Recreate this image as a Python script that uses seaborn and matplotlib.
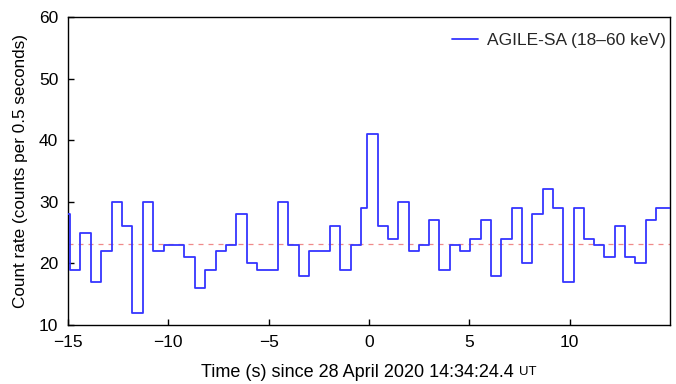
import numpy as np
import pandas as pd
import matplotlib
matplotlib.use("Agg")
import matplotlib.pyplot as plt
import seaborn as sns

# ---- data ----
# counts before the trigger (first value is a partially visible bin)
counts_pre = [28, 19, 25, 17, 22, 30, 26, 12, 30, 22, 23, 23, 21, 16, 19,
              22, 23, 28, 20, 19, 19, 30, 23, 18, 22, 22, 26, 19, 23]
# short bin just before the trigger
count_short = 29
# counts from the trigger on
counts_post = [41, 26, 24, 30, 22, 23, 27, 19, 23, 22, 24, 27, 18, 24, 29,
               20, 28, 32, 29, 17, 29, 24, 23, 21, 26, 21, 20, 27, 29]
pre_start = -15.418      # start of first (clipped) bin, s
pre_width = 0.518        # s
short_start = -0.40      # s
post_start = -0.085      # s
post_width = 0.514       # s
t_end = 15.0
mean_level = 23.2
legend_label = "AGILE-SA (18\u201360 keV)"
xticks = [-15, -10, -5, 0, 5, 10]
yticks = [10, 20, 30, 40, 50, 60]

t_pre = pre_start + pre_width * np.arange(len(counts_pre))
t_post = post_start + post_width * np.arange(len(counts_post))
times = np.concatenate([t_pre, [short_start], t_post, [t_end]])
counts = np.concatenate([counts_pre, [count_short], counts_post, [counts_post[-1]]])
df = pd.DataFrame({"time": times, "counts": counts})

sns.set_theme(style="white")
plt.rcParams["font.family"] = ["Liberation Sans", "DejaVu Sans"]

FS = 12.5
fig = plt.figure(figsize=(6.76, 3.84), dpi=100)
ax = fig.add_axes([0.1006, 0.1536, 0.8904, 0.8021])

ax.axhline(mean_level, color="#f08a8a", lw=0.9, ls=(0, (4, 4)), zorder=1)
sns.lineplot(data=df, x="time", y="counts", drawstyle="steps-post",
             color="#3535ff", lw=1.3, ax=ax, label=legend_label, zorder=3,
             estimator=None)

ax.set_xlim(-15, 15)
ax.set_ylim(10, 60)
ax.set_xticks(xticks)
ax.set_yticks(yticks)
ax.set_xticklabels([("\u2212" + str(abs(v))) if v < 0 else str(v) for v in xticks])
ax.tick_params(axis="both", direction="in", length=4, width=1, colors="black",
               labelsize=FS, pad=7, bottom=True, left=True, top=False, right=False)
ax.tick_params(axis="x", pad=7)
for s in ax.spines.values():
    s.set_color("black")
    s.set_linewidth(1.0)

ax.set_ylabel("Count rate (counts per 0.5 seconds)", fontsize=12.3, color="black", labelpad=8)
xl = ax.set_xlabel("Time (s) since 28 April 2020 14:34:24.4 ", fontsize=13,
                   color="black", labelpad=10)
ax.xaxis.label.set_x(0.485)
fig.canvas.draw()
ax.annotate("UT", xy=(1, 0), xycoords=xl, fontsize=9.5, color="black",
            va="bottom", ha="left", xytext=(0, 2), textcoords="offset points")

leg = ax.legend(loc="upper right", frameon=False, fontsize=FS,
                handlelength=1.5, handletextpad=0.5, borderaxespad=0.0,
                bbox_to_anchor=(1.004, 0.972))

fig.savefig("out.png", dpi=100)
